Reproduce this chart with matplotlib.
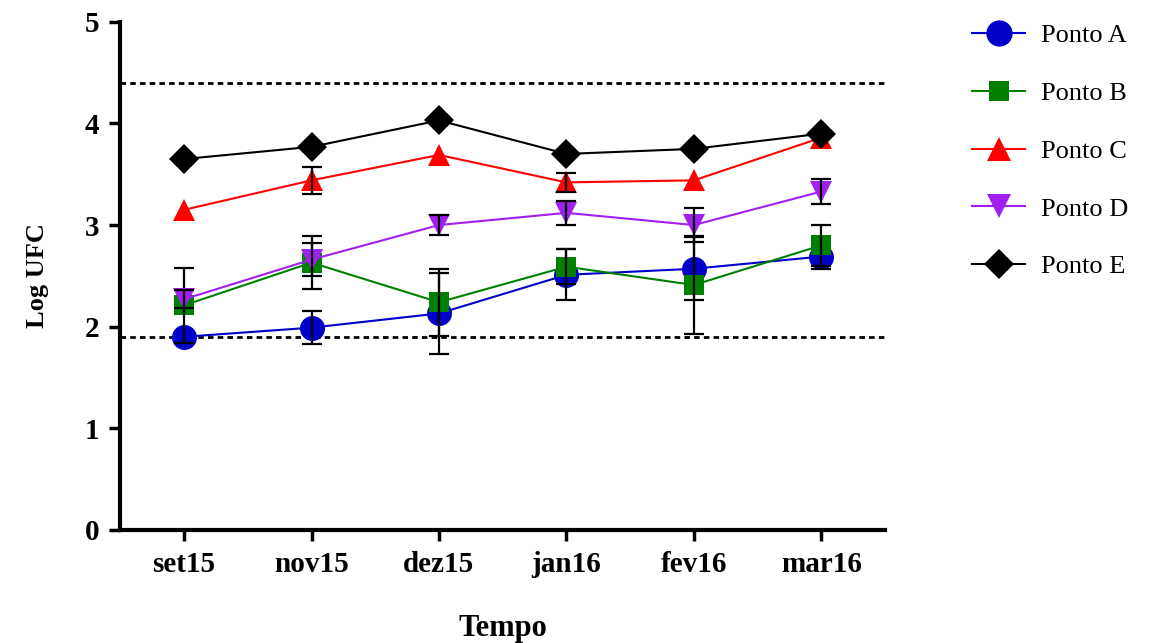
import numpy as np
import matplotlib
matplotlib.use("Agg")
import matplotlib.pyplot as plt

# data
meses = ['set15', 'nov15', 'dez15', 'jan16', 'fev16', 'mar16']
ponto_a = [1.90, 1.99, 2.13, 2.51, 2.57, 2.69]
ponto_b = [2.21, 2.63, 2.24, 2.59, 2.41, 2.80]
ponto_c = [3.15, 3.44, 3.69, 3.42, 3.44, 3.86]
ponto_d = [2.27, 2.66, 3.00, 3.12, 3.00, 3.33]
ponto_e = [3.65, 3.77, 4.03, 3.70, 3.75, 3.90]
err_a = [0.00, 0.16, 0.40, 0.25, 0.31, 0.12]
err_b = [0.37, 0.26, 0.33, 0.17, 0.48, 0.20]
err_c = [0.00, 0.13, 0.00, 0.09, 0.00, 0.00]
err_d = [0.09, 0.16, 0.10, 0.12, 0.17, 0.12]
err_e = [0.00, 0.00, 0.00, 0.00, 0.00, 0.00]
limite_sup = 4.4
limite_inf = 1.9

plt.rcParams['font.family'] = ['Liberation Serif', 'DejaVu Serif']

fig = plt.figure(figsize=(11.57, 6.43), dpi=100)
ax = fig.add_axes([0.104, 0.176, 0.661, 0.79])

x = np.arange(len(meses))
series = [
    ('Ponto A', ponto_a, err_a, '#0000c8', 'o', 18),
    ('Ponto B', ponto_b, err_b, '#008000', 's', 14),
    ('Ponto C', ponto_c, err_c, '#ff0000', '^', 16),
    ('Ponto D', ponto_d, err_d, '#a020f0', 'v', 16),
    ('Ponto E', ponto_e, err_e, '#000000', 'D', 15),
]

z = 3
for nome, vals, errs, cor, mk, ms in series:
    ax.plot(x, vals, color=cor, marker=mk, markersize=ms, linewidth=1.5,
            markeredgewidth=0, label=nome, zorder=z)
    vals = np.array(vals)
    errs = np.array(errs)
    m = errs > 0
    if m.any():
        ax.errorbar(x[m], vals[m], yerr=errs[m], fmt='none', ecolor='black',
                    elinewidth=1.6, capsize=7, capthick=1.6, zorder=z + 0.5)
    z += 1

ax.axhline(limite_sup, color='black', linestyle=(0, (2, 1.5)), linewidth=2, zorder=2)
ax.axhline(limite_inf, color='black', linestyle=(0, (2, 1.5)), linewidth=2, zorder=2)

ax.set_xlim(-0.5, 5.5)
ax.set_ylim(0, 5)
ax.set_xticks(x)
ax.set_xticklabels(meses)
ax.set_yticks([0, 1, 2, 3, 4, 5])

for s in ['top', 'right']:
    ax.spines[s].set_visible(False)
for s in ['left', 'bottom']:
    ax.spines[s].set_linewidth(3)

ax.tick_params(axis='both', direction='out', length=8, width=2.5, labelsize=21, pad=7)
for lab in ax.get_xticklabels() + ax.get_yticklabels():
    lab.set_fontweight('bold')

ax.set_ylabel('Log UFC', fontsize=19, fontweight='bold', labelpad=26)
ax.set_xlabel('Tempo', fontsize=22, fontweight='bold', labelpad=26)

fig.legend(loc='upper left', bbox_to_anchor=(0.82, 1.0), frameon=False,
           fontsize=19, labelspacing=1.3, handlelength=2.0, handletextpad=0.6,
           markerscale=1.05)

plt.savefig('out.png', dpi=100)
